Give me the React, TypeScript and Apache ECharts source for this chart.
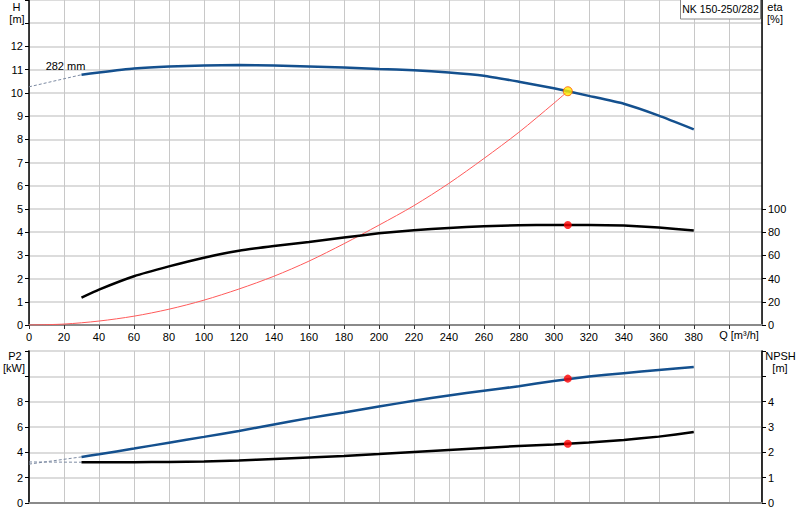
import { useEffect, useRef } from 'react';
import * as echarts from 'echarts';

// flow rates [m3/h] where the pump curves were read
const flowQ = [30, 40, 60, 80, 100, 120, 140, 160, 180, 200, 220, 240, 260, 280, 300, 320, 340, 360, 380];
const headM = [10.78, 10.88, 11.05, 11.14, 11.18, 11.2, 11.18, 11.14, 11.09, 11.03, 10.97, 10.88, 10.74, 10.48, 10.2, 9.87, 9.53, 9.02, 8.43];
const etaPct = [23.6, 30.5, 42, 50.5, 58, 64, 68, 71.5, 75.3, 79, 81.6, 83.6, 85, 86, 86.2, 86.2, 85.7, 84, 81.4];
const p2KW = [3.64, 3.85, 4.3, 4.76, 5.22, 5.69, 6.2, 6.7, 7.15, 7.62, 8.07, 8.49, 8.86, 9.22, 9.64, 9.98, 10.25, 10.5, 10.73];
const npshM = [1.61, 1.61, 1.61, 1.62, 1.64, 1.68, 1.74, 1.8, 1.86, 1.93, 2.01, 2.09, 2.17, 2.25, 2.31, 2.39, 2.49, 2.62, 2.8];

// system curve
const systemQ = [0, 20, 40, 60, 80, 100, 120, 140, 160, 180, 200, 220, 240, 260, 280, 300, 308];
const systemHead = [0, 0.04, 0.17, 0.38, 0.68, 1.07, 1.55, 2.1, 2.75, 3.5, 4.3, 5.14, 6.1, 7.17, 8.3, 9.55, 10.07];

// dashed extension below the minimum flow
const extQ = [0, 30];
const headExt = [10.26, 10.78];
const p2Ext = [3.07, 3.64];
const npshExt = [1.62, 1.61];

// duty point
const dutyQ = 308;
const dutyHead = 10.07;
const dutyEta = 86.2;
const dutyP2 = 9.82;
const dutyNpsh = 2.34;

const headTicks = [0, 1, 2, 3, 4, 5, 6, 7, 8, 9, 10, 11, 12];
const etaTicks = [0, 20, 40, 60, 80, 100];
const p2Ticks = [0, 2, 4, 6, 8];
const npshTicks = [0, 1, 2, 3, 4];

const FONT = 'Arial, "Liberation Sans", sans-serif';
const BLUE = '#14508e';

const zip = (xs: number[], ys: number[]) => xs.map((x, i) => [x, ys[i]]);

const xAxisFor = (gridIndex: number, labels: boolean) => ({
  type: 'value',
  gridIndex,
  min: 0,
  max: 419,
  interval: 20,
  axisLine: { show: true, onZero: false, lineStyle: { color: '#8a8a8a', width: 2 } },
  axisTick: { show: labels, length: 4, lineStyle: { color: '#333' } },
  axisLabel: {
    show: labels,
    margin: 6,
    color: '#000',
    fontSize: 11,
    fontFamily: FONT,
    showMaxLabel: false,
    formatter: (v: number) => (v % 20 === 0 && v < 400 ? String(v) : ''),
  },
  splitLine: { show: true, lineStyle: { color: '#c8c8c8', width: 1 } },
});

const yAxisFor = (
  gridIndex: number,
  position: 'left' | 'right',
  max: number,
  interval: number,
  labelValues: number[],
  split: boolean,
  tickValues?: number[],
) => ({
  type: 'value',
  gridIndex,
  position,
  min: 0,
  max,
  interval,
  axisLine: { show: true, onZero: false, lineStyle: { color: '#000', width: 1.5 } },
  axisTick: tickValues
    ? { show: true, length: 4, customValues: tickValues, lineStyle: { color: '#000' } }
    : { show: true, length: 4, lineStyle: { color: '#000' } },
  axisLabel: {
    margin: 6,
    color: '#000',
    fontSize: 11,
    fontFamily: FONT,
    customValues: labelValues,
  },
  splitLine: { show: split, lineStyle: { color: '#dcdcdc', width: 2 } },
});

const label = (text: string, x: number, y: number, size = 11) => ({
  type: 'text',
  x,
  y,
  z: 20,
  style: { text, fill: '#000', font: `${size}px ${FONT}`, align: 'center', verticalAlign: 'middle' },
});

const dashed = { color: '#7d8ba3', width: 1, type: [3, 2] };

export default function App() {
  const ref = useRef<HTMLDivElement>(null);

  useEffect(() => {
    if (!ref.current) return;
    const chart = echarts.init(ref.current, undefined, { renderer: 'svg' });

    chart.setOption({
      animation: false,
      backgroundColor: '#fff',
      grid: [
        { left: 29, right: 38, top: 0, height: 325 },
        { left: 29, right: 38, top: 351, height: 152, show: true, borderColor: '#8a8a8a', borderWidth: 1.5 },
      ],
      xAxis: [xAxisFor(0, true), xAxisFor(1, false)],
      yAxis: [
        yAxisFor(0, 'left', 14, 1, headTicks, true),
        yAxisFor(0, 'right', 280, 20, etaTicks, false, etaTicks),
        yAxisFor(1, 'left', 12, 2, p2Ticks, true),
        yAxisFor(1, 'right', 6, 1, npshTicks, false),
      ],
      graphic: [
        label('H', 16.5, 6.5),
        label('[m]', 17, 19),
        label('eta', 775, 6.5),
        label('[%]', 775, 19),
        label('P2', 15, 355.5),
        label('[kW]', 14, 368),
        label('NPSH', 780.5, 355.5),
        label('[m]', 780, 368),
        label('Q [m³/h]', 739, 334.5),
        label('282 mm', 65.5, 65.5),
        {
          type: 'rect',
          z: 19,
          shape: { x: 680.5, y: -0.5, width: 80, height: 19.5 },
          style: { fill: '#fff', stroke: '#8a8a8a', lineWidth: 1 },
        },
        label('NK 150-250/282', 720.5, 9, 10.5),
      ],
      series: [
        {
          type: 'line', xAxisIndex: 0, yAxisIndex: 0, symbol: 'none',
          data: zip(extQ, headExt), lineStyle: dashed,
        },
        {
          type: 'line', xAxisIndex: 0, yAxisIndex: 0, symbol: 'none',
          data: zip(systemQ, systemHead), smooth: 0.3,
          lineStyle: { color: '#ff5a5a', width: 1 },
        },
        {
          type: 'line', xAxisIndex: 0, yAxisIndex: 0, symbol: 'none',
          data: zip(flowQ, headM), smooth: 0.15,
          lineStyle: { color: BLUE, width: 2.5 },
        },
        {
          type: 'line', xAxisIndex: 0, yAxisIndex: 1, symbol: 'none',
          data: zip(flowQ, etaPct), smooth: 0.15,
          lineStyle: { color: '#000', width: 2.5 },
        },
        {
          type: 'scatter', xAxisIndex: 0, yAxisIndex: 0, symbolSize: 9, z: 5,
          data: [[dutyQ, dutyHead]],
          itemStyle: { color: '#ffee00', borderColor: '#ff5500', borderWidth: 1 },
        },
        {
          type: 'scatter', xAxisIndex: 0, yAxisIndex: 1, symbolSize: 8, z: 5,
          data: [[dutyQ, dutyEta]], itemStyle: { color: '#ff0000' },
        },
        {
          type: 'line', xAxisIndex: 1, yAxisIndex: 2, symbol: 'none',
          data: zip(extQ, p2Ext), lineStyle: dashed,
        },
        {
          type: 'line', xAxisIndex: 1, yAxisIndex: 3, symbol: 'none',
          data: zip(extQ, npshExt), lineStyle: dashed,
        },
        {
          type: 'line', xAxisIndex: 1, yAxisIndex: 2, symbol: 'none',
          data: zip(flowQ, p2KW), smooth: 0.15,
          lineStyle: { color: BLUE, width: 2.5 },
        },
        {
          type: 'line', xAxisIndex: 1, yAxisIndex: 3, symbol: 'none',
          data: zip(flowQ, npshM), smooth: 0.15,
          lineStyle: { color: '#000', width: 2.5 },
        },
        {
          type: 'scatter', xAxisIndex: 1, yAxisIndex: 2, symbolSize: 8, z: 5,
          data: [[dutyQ, dutyP2]], itemStyle: { color: '#ff0000' },
        },
        {
          type: 'scatter', xAxisIndex: 1, yAxisIndex: 3, symbolSize: 8, z: 5,
          data: [[dutyQ, dutyNpsh]], itemStyle: { color: '#ff0000' },
        },
      ],
    });

    const onResize = () => chart.resize();
    window.addEventListener('resize', onResize);
    return () => {
      window.removeEventListener('resize', onResize);
      chart.dispose();
    };
  }, []);

  return (
    <div
      ref={ref}
      style={{ position: 'absolute', left: 0, top: 0, width: 800, height: 520, background: '#fff' }}
    />
  );
}
